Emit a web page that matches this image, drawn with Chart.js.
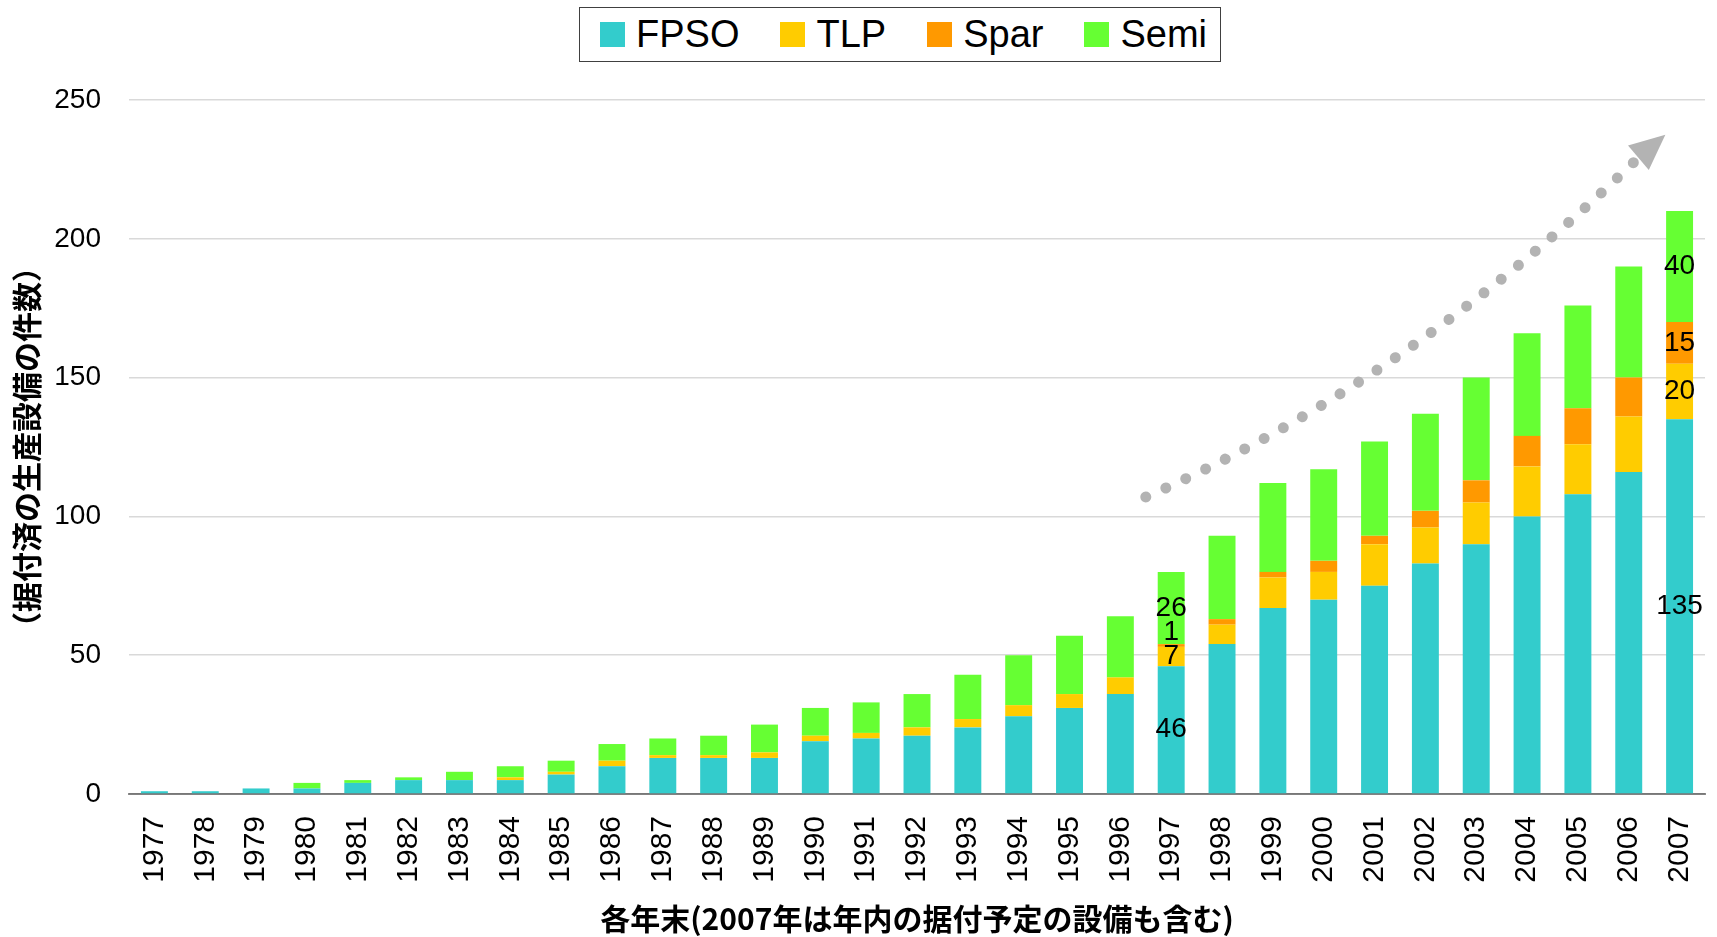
<!DOCTYPE html>
<html>
<head>
<meta charset="utf-8">
<title>浮体式生産設備の据付件数</title>
<script src="https://cdn.jsdelivr.net/npm/chart.js@4.4.1/dist/chart.umd.min.js"></script>
<style>
    html, body { margin: 0; padding: 0; background: #fff; }
    #wrap { position: relative; width: 1717px; height: 937px; }
    #legend {
        position: absolute; left: 579px; top: 7px; height: 55px;
        box-sizing: border-box; border: 1.5px solid #404040; background: #fff;
        display: flex; align-items: center; padding: 0 13px 0 20px;
        font-family: "Liberation Sans", Arial, sans-serif; font-size: 38px; color: #000;
    }
    #legend .item { display: flex; align-items: center; margin-right: 41px; }
    #legend .item:last-child { margin-right: 0; }
    #legend .swatch { width: 25px; height: 25px; margin-right: 11px; }
</style>
</head>
<body>
<div id="wrap">
    <div id="legend"></div>
    <canvas id="platformChart"></canvas>
</div>
<script>
const years = ['1977', '1978', '1979', '1980', '1981', '1982', '1983', '1984', '1985', '1986',
    '1987', '1988', '1989', '1990', '1991', '1992', '1993', '1994', '1995', '1996',
    '1997', '1998', '1999', '2000', '2001', '2002', '2003', '2004', '2005', '2006', '2007'];

const fpso = [1, 1, 2, 2, 4, 5, 5, 5, 7, 10, 13, 13, 13, 19, 20, 21, 24, 28, 31, 36,
    46, 54, 67, 70, 75, 83, 90, 100, 108, 116, 135];
const tlp = [0, 0, 0, 0, 0, 0, 0, 1, 1, 2, 1, 1, 2, 2, 2, 3, 3, 4, 5, 6,
    7, 7, 11, 10, 15, 13, 15, 18, 18, 20, 20];
const spar = [0, 0, 0, 0, 0, 0, 0, 0, 0, 0, 0, 0, 0, 0, 0, 0, 0, 0, 0, 0,
    1, 2, 2, 4, 3, 6, 8, 11, 13, 14, 15];
const semi = [0, 0, 0, 2, 1, 1, 3, 4, 4, 6, 6, 7, 10, 10, 11, 12, 16, 18, 21, 22,
    26, 30, 32, 33, 34, 35, 37, 37, 37, 40, 40];

const yTicks = [0, 50, 100, 150, 200, 250];
const labelledYears = ['1997', '2007'];

// trend arrow in data units: [category index, value]
const arrowFrom = [19.5, 107];
const arrowVia = [24.66, 148.6];
const arrowTo = [29.19, 229.2];
const arrowTip = [29.72, 237.5];

const latin = '"Liberation Sans", Arial, sans-serif';
const cjk = '"Noto Sans CJK JP", sans-serif';

// legend as html, built from the datasets
const htmlLegend = {
    id: 'htmlLegend',
    afterUpdate(chart) {
        const box = document.getElementById('legend');
        box.innerHTML = '';
        chart.data.datasets.forEach(function (ds) {
            const item = document.createElement('div');
            item.className = 'item';
            const swatch = document.createElement('span');
            swatch.className = 'swatch';
            swatch.style.background = ds.backgroundColor;
            const text = document.createElement('span');
            text.textContent = ds.label;
            item.appendChild(swatch);
            item.appendChild(text);
            box.appendChild(item);
        });
    }
};

const valueLabels = {
    id: 'valueLabels',
    afterDatasetsDraw(chart) {
        const ctx = chart.ctx;
        ctx.save();
        ctx.font = '28px ' + latin;
        ctx.fillStyle = '#000';
        ctx.textAlign = 'center';
        ctx.textBaseline = 'middle';
        labelledYears.forEach(function (year) {
            const i = years.indexOf(year);
            chart.data.datasets.forEach(function (ds, d) {
                const v = ds.data[i];
                if (!v) return;
                const bar = chart.getDatasetMeta(d).data[i];
                let y = (bar.y + bar.base) / 2;
                if (bar.base - bar.y < 8) y -= 13;
                ctx.fillText(String(v), bar.x, y);
            });
        });
        ctx.restore();
    }
};

const trendArrow = {
    id: 'trendArrow',
    afterDraw(chart) {
        const xs = chart.scales.x;
        const ys = chart.scales.y;
        const pt = p => [xs.getPixelForValue(p[0]), ys.getPixelForValue(p[1])];
        const a = pt(arrowFrom), b = pt(arrowVia), c = pt(arrowTo), t = pt(arrowTip);
        const ctx = chart.ctx;
        ctx.save();
        ctx.strokeStyle = '#b3b3b3';
        ctx.fillStyle = '#b3b3b3';
        ctx.lineWidth = 11;
        ctx.lineCap = 'round';
        ctx.setLineDash([0.01, 22]);
        ctx.beginPath();
        ctx.moveTo(a[0], a[1]);
        ctx.quadraticCurveTo(b[0], b[1], c[0], c[1]);
        ctx.stroke();

        const dx = t[0] - c[0], dy = t[1] - c[1];
        const len = Math.hypot(dx, dy);
        const ux = dx / len, uy = dy / len;
        const half = 16;
        ctx.setLineDash([]);
        ctx.beginPath();
        ctx.moveTo(t[0], t[1]);
        ctx.lineTo(c[0] - uy * half, c[1] + ux * half);
        ctx.lineTo(c[0] + uy * half, c[1] - ux * half);
        ctx.closePath();
        ctx.fill();
        ctx.restore();
    }
};

document.addEventListener('DOMContentLoaded', function () {
    const canvas = document.getElementById('platformChart');

    new Chart(canvas.getContext('2d'), {
        type: 'bar',
        data: {
            labels: years,
            datasets: [
                { label: 'FPSO', data: fpso, backgroundColor: '#33CCCC' },
                { label: 'TLP', data: tlp, backgroundColor: '#FFCC00' },
                { label: 'Spar', data: spar, backgroundColor: '#FF9900' },
                { label: 'Semi', data: semi, backgroundColor: '#66FF33' }
            ]
        },
        options: {
            responsive: true,
            maintainAspectRatio: false,
            animation: false,
            datasets: {
                bar: {
                    borderWidth: 0,
                    categoryPercentage: 1,
                    barPercentage: 0.53
                }
            },
            layout: {
                padding: { top: 100, left: 0, right: 12, bottom: 0 }
            },
            plugins: {
                tooltip: { enabled: false },
                legend: { display: false }
            },
            scales: {
                x: {
                    stacked: true,
                    z: 1,
                    afterFit: function (axis) {
                        axis.height = 143;
                        axis.paddingLeft = 0;
                        axis.paddingRight = 0;
                    },
                    grid: { display: false, drawTicks: false },
                    border: { color: 'rgba(0,0,0,0.45)', width: 2 },
                    ticks: {
                        autoSkip: false,
                        minRotation: 90,
                        maxRotation: 90,
                        padding: 22,
                        color: '#000',
                        font: { family: latin, size: 30 }
                    },
                    title: {
                        display: true,
                        text: '各年末(2007年は年内の据付予定の設備も含む)',
                        color: '#000',
                        padding: { top: 0, bottom: 0 },
                        font: { family: cjk, size: 30, weight: 'bold' }
                    }
                },
                y: {
                    stacked: true,
                    min: 0,
                    max: 250,
                    afterBuildTicks: function (axis) {
                        axis.ticks = yTicks.map(v => ({ value: v }));
                    },
                    afterFit: function (axis) {
                        axis.width = 129;
                        axis.paddingTop = 0;
                        axis.paddingBottom = 0;
                    },
                    grid: { color: '#d9d9d9', lineWidth: 1.5, drawTicks: false },
                    border: { display: false },
                    ticks: {
                        padding: 28,
                        color: '#000',
                        font: { family: latin, size: 28 }
                    },
                    title: {
                        display: true,
                        text: '（据付済の生産設備の件数）',
                        color: '#000',
                        padding: { top: 9, bottom: 0 },
                        font: { family: cjk, size: 30, weight: 'bold' }
                    }
                }
            }
        },
        plugins: [htmlLegend, valueLabels, trendArrow]
    });
});
</script>
</body>
</html>
